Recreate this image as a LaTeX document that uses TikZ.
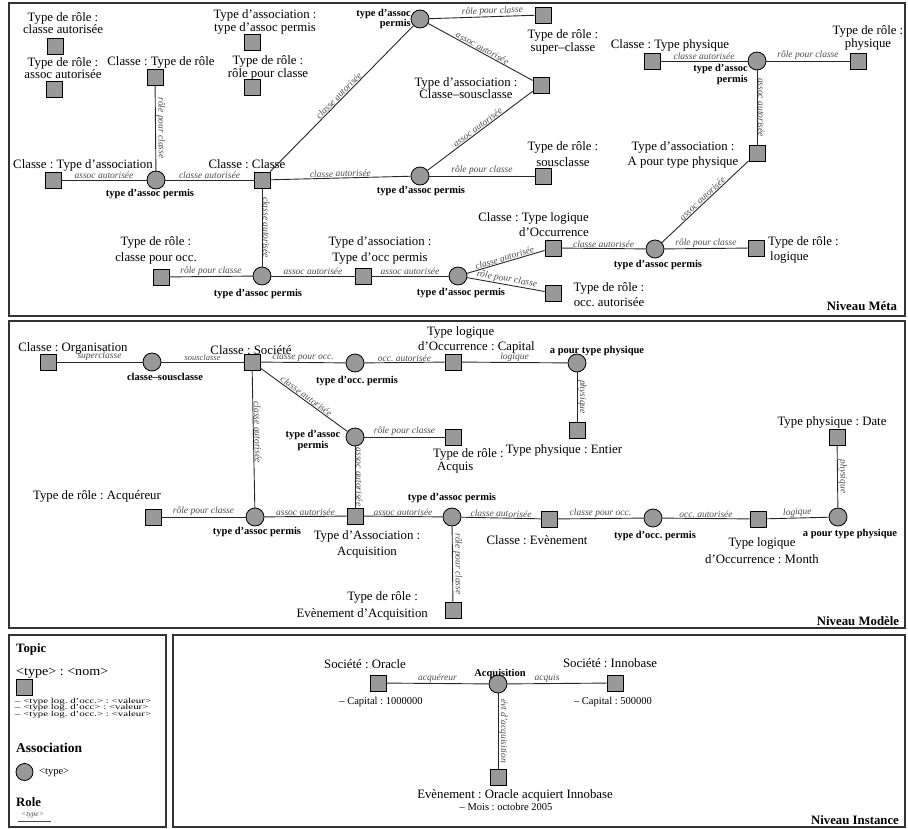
\documentclass[tikz,border=0pt]{standalone}
\usepackage{fontspec}
\setmainfont{Liberation Serif}
\definecolor{fillg}{RGB}{153,153,153}
\begin{document}
\frenchspacing
\begin{tikzpicture}[x=1pt,y=-1pt,
  sq/.style={rectangle, draw=black, fill=fillg, line width=0.8pt, minimum size=16pt, inner sep=0pt},
  ci/.style={circle, draw=black, fill=fillg, line width=0.8pt, minimum size=18pt, inner sep=0pt},
  txt/.style={font=\fontsize{12.8}{#1}\selectfont, align=center, inner sep=0pt},
  txt/.default=13,
  bl/.style={font=\fontsize{10.5}{#1}\selectfont\bfseries, align=center, inner sep=0pt},
  bl/.default=11,
  hd/.style={font=\fontsize{12.8}{13}\selectfont\bfseries, inner sep=0pt},
  sm/.style={font=\fontsize{10.5}{11}\selectfont, inner sep=0pt},
  tiny/.style={font=\fontsize{7.5}{8}\selectfont, inner sep=0pt, anchor=west},
  lk/.style={draw=black!85, line width=0.9pt},
  lab/.style={font=\fontsize{9.5}{10}\selectfont\itshape, text=black!70, inner sep=0.6pt, midway, above, sloped},
  panel/.style={draw=black!80, line width=1.3pt},
]
\useasboundingbox (0,0) rectangle (908,829);
% panels
\draw[panel] (9,3) rectangle (905,316);
\draw[panel] (9,321) rectangle (905,628);
\draw[panel] (9,635) rectangle (166,827);
\draw[panel] (173,635) rectangle (905,827);

% ================= Niveau Meta =================
\node[sq] (tr1) at (55,46) {};
\node[txt=11.5] (tr1t) at (63,23) {Type de rôle :\\classe autorisée};
\node[sq] (tr2) at (54,89) {};
\node[txt=11.5] (tr2t) at (63,68) {Type de rôle :\\assoc autorisée};
\node[sq] (ctr) at (155,77) {};
\node[txt] (ctrt) at (161,62) {Classe : Type de rôle};
\node[sq] (tat) at (252,42) {};
\node[txt=11] (tatt) at (265,22) {Type d'association :\\type d'assoc permis};
\node[sq] (trr) at (252,87) {};
\node[txt=11] (trrt) at (268,68) {Type de rôle :\\rôle pour classe};
\node[sq] (cta) at (53,180) {};
\node[txt] (ctat) at (83,165) {Classe : Type d'association};
\node[ci] (a1) at (156,180) {};
\node[bl] (a1t) at (150,194) {type d'assoc permis};
\node[sq] (cc) at (262,180) {};
\node[txt] (cct) at (247,164) {Classe : Classe};
\node[ci] (a2) at (420,19) {};
\node[bl=10, align=right, anchor=east] (a2t) at (411,19) {type d'assoc\\permis};
\node[sq] (tsc) at (543,15) {};
\node[txt] (tsct) at (563,42) {Type de rôle :\\super–classe};
\node[sq] (acs) at (541,85) {};
\node[txt=12] (acst) at (466,88) {Type d'association :\\Classe–sousclasse};
\node[ci] (a3) at (420,176) {};
\node[bl] (a3t) at (421,191) {type d'assoc permis};
\node[sq] (tss) at (543,176) {};
\node[txt=16] (tsst) at (563,154) {Type de rôle :\\sousclasse};

\node[sq] (ctp) at (652,61) {};
\node[txt] (ctpt) at (670,45) {Classe : Type physique};
\node[ci] (a4) at (757,61) {};
\node[bl=11, align=right, anchor=east] (a4t) at (748,74) {type d'assoc\\permis};
\node[sq] (trp) at (858,61) {};
\node[txt] (trpt) at (868,38) {Type de rôle :\\physique};
\node[sq] (atp) at (757,153) {};
\node[txt=15] (atpt) at (683,155) {Type d'association :\\A pour type physique};
\node[ci] (a5) at (655,249) {};
\node[bl] (a5t) at (658,265) {type d'assoc permis};
\node[sq] (ctl) at (553,248) {};
\node[txt=15, align=right, anchor=east] (ctlt) at (589,225) {Classe : Type logique\\d'Occurrence};
\node[sq] (trl) at (756,248) {};
\node[txt=15, align=left, anchor=west] (trlt) at (768,250) {Type de rôle :\\\hspace*{2pt}logique};
\node[ci] (a6) at (458,276) {};
\node[bl] (a6t) at (461,293) {type d'assoc permis};
\node[sq] (toa) at (553,293) {};
\node[txt=15] (toat) at (609,295) {Type de rôle :\\occ. autorisée};
\node[sq] (tcp) at (161,277) {};
\node[txt=16] (tcpt) at (156,250) {Type de rôle :\\classe pour occ.};
\node[ci] (a7) at (262,276) {};
\node[bl] (a7t) at (258,294) {type d'assoc permis};
\node[sq] (top) at (363,276) {};
\node[txt=16] (topt) at (380,250) {Type d'association :\\Type d'occ permis};
\node[hd] (nmeta) at (862,306) {Niveau Méta};

\draw[lk] (cta) -- node[lab]{assoc autorisée} (a1);
\draw[lk] (ctr) -- node[lab]{rôle pour classe} (a1);
\draw[lk] (a1) -- node[lab]{classe autorisée} (cc);
\draw[lk] (cc) -- node[lab]{classe autorisée} (a2);
\draw[lk] (a2) -- node[lab, pos=0.6]{rôle pour classe} (tsc);
\draw[lk] (a2) -- node[lab]{assoc autorisée} (acs);
\draw[lk] (cc) -- node[lab]{classe autorisée} (a3);
\draw[lk] (a3) -- node[lab]{assoc autorisée} (acs);
\draw[lk] (a3) -- node[lab]{rôle pour classe} (tss);
\draw[lk] (ctp) -- node[lab]{classe autorisée} (a4);
\draw[lk] (a4) -- node[lab]{rôle pour classe} (trp);
\draw[lk] (a4) -- node[lab]{assoc autorisée} (atp);
\draw[lk] (atp) -- node[lab]{assoc autorisée} (a5);
\draw[lk] (ctl) -- node[lab]{classe autorisée} (a5);
\draw[lk] (a5) -- node[lab]{rôle pour classe} (trl);
\draw[lk] (a6) -- node[lab]{classe autorisée} (ctl);
\draw[lk] (a6) -- node[lab]{rôle pour classe} (toa);
\draw[lk] (cc) -- node[lab]{classe autorisée} (a7);
\draw[lk] (tcp) -- node[lab]{rôle pour classe} (a7);
\draw[lk] (a7) -- node[lab]{assoc autorisée} (top);
\draw[lk] (top) -- node[lab]{assoc autorisée} (a6);

% ================= Niveau Modele =================
\node[sq] (corg) at (48,362) {};
\node[txt] (corgt) at (73,348) {Classe : Organisation};
\node[ci] (m1) at (152,362) {};
\node[bl] (m1t) at (165,377) {classe–sousclasse};
\node[sq] (csoc) at (252,362) {};
\node[txt] (csoct) at (251,350) {Classe : Société};
\node[ci] (m2) at (355,363) {};
\node[bl] (m2t) at (357,381) {type d'occ. permis};
\node[sq] (tlc) at (453,362) {};
\node[txt=15, align=left, anchor=west] (tlct) at (418,340) {\hspace*{9pt}Type logique\\d'Occurrence : Capital};
\node[ci] (m3) at (577,363) {};
\node[sq] (tpe) at (577,430) {};
\node[txt] (tpet) at (564,450) {Type physique : Entier};
\node[ci] (m4) at (355,437) {};
\node[bl=11] (m4t) at (313,440) {type d'assoc\\permis};
\node[sq] (tacq) at (453,437) {};
\node[txt, align=left, anchor=west] (tacqt) at (433,461) {Type de rôle :\\\hspace*{4pt}Acquis};
\node[sq] (tacqr) at (153,517) {};
\node[txt] (tacqrt) at (97,496) {Type de rôle : Acquéreur};
\node[ci] (m5) at (255,517) {};
\node[bl] (m5t) at (257,532) {type d'assoc permis};
\node[sq] (aacq) at (355,516) {};
\node[txt=16] (aacqt) at (367,544) {Type d'Association :\\Acquisition};
\node[ci] (m6) at (452,517) {};
\node[bl] (m6t) at (452,498) {type d'assoc permis};
\node[sq] (tevt) at (453,610) {};
\node[txt=17, align=right, anchor=east] (tevtt) at (428,606) {Type de rôle :\hspace*{10pt}\\Evènement d'Acquisition};
\node[sq] (cevt) at (549,519) {};
\node[txt] (cevtt) at (537,540) {Classe : Evènement};
\node[ci] (m7) at (653,518) {};
\node[bl] (m7t) at (655,536) {type d'occ. permis};
\node[sq] (tlm) at (758,519) {};
\node[txt=17] (tlmt) at (762,551) {Type logique\\d'Occurrence : Month};
\node[ci] (m8) at (838,517) {};
\node[bl] (m8t) at (850,534) {a pour type physique};
\node[sq] (tpd) at (837,437) {};
\node[txt] (tpdt) at (832,422) {Type physique : Date};
\node[hd] (nmod) at (858,621) {Niveau Modèle};

\draw[lk] (corg) -- node[lab]{superclasse} (m1);
\draw[lk] (m1) -- node[lab, font=\fontsize{8.5}{9}\selectfont\itshape]{sousclasse} (csoc);
\draw[lk] (csoc) -- node[lab]{classe pour occ.} (m2);
\draw[lk] (m2) -- node[lab]{occ. autorisée} (tlc);
\draw[lk] (tlc) -- node[lab]{logique} (m3);
\draw[lk] (m3) -- node[lab]{physique} (tpe);
\draw[lk] (csoc) -- node[lab]{classe autorisée} (m4);
\draw[lk] (m4) -- node[lab]{rôle pour classe} (tacq);
\draw[lk] (m4) -- node[lab]{assoc autorisée} (aacq);
\draw[lk] (csoc) -- node[lab, pos=0.45]{classe autorisée} (m5);
\draw[lk] (tacqr) -- node[lab]{rôle pour classe} (m5);
\draw[lk] (m5) -- node[lab]{assoc autorisée} (aacq);
\draw[lk] (aacq) -- node[lab]{assoc autorisée} (m6);
\draw[lk] (m6) -- node[lab]{rôle pour classe} (tevt);
\draw[lk] (m6) -- node[lab]{classe autorisée} (cevt);
\draw[lk] (cevt) -- node[lab]{classe pour occ.} (m7);
\draw[lk] (m7) -- node[lab]{occ. autorisée} (tlm);
\draw[lk] (tlm) -- node[lab]{logique} (m8);
\draw[lk] (tpd) -- node[lab]{physique} (m8);
\node[bl] (m3t) at (597,351) {a pour type physique};

% ================= Legend =================
\node[hd, anchor=west] (ltopic) at (16,649) {Topic};
\node[txt, anchor=west] (ltn) at (16,673) {\scalebox{1.1}[1]{<type> : <nom>}};
\node[sq] (lsq) at (24,687) {};
\node[tiny] (locc1) at (15,701.5) {\scalebox{1.45}[1]{– <type log. d'occ.> : <valeur>}};
\node[tiny] (locc2) at (15,708) {\scalebox{1.45}[1]{– <type log. d'occ> : <valeur>}};
\node[tiny] (locc3) at (15,714.5) {\scalebox{1.45}[1]{– <type log. d'occ.> : <valeur>}};
\node[anchor=west, inner sep=0pt, font=\fontsize{13.5}{14}\selectfont\bfseries] (lassoc) at (16,748) {Association};
\node[ci, minimum size=17pt] (lci) at (24.5,772) {};
\node[anchor=west, inner sep=0pt, font=\fontsize{10.5}{11}\selectfont] (lct) at (39,773) {<type>};
\node[hd, anchor=west] (lrole) at (16,802) {Role};
\node[anchor=west, inner sep=0pt, font=\fontsize{7.5}{8}\selectfont\itshape, text=black!70] (lrt) at (21,815) {<type>};
\coordinate (lr1) at (18,821.5);
\coordinate (lr2) at (51,821.5);
\draw[lk, line width=1.2pt, draw=black!70] (lr1) -- (lr2);

% ================= Niveau Instance =================
\node[sq] (orc) at (378,683) {};
\node[txt] (orct) at (365,664) {Société : Oracle};
\node[sm] (orcc) at (381,702) {– Capital : 1000000};
\node[ci] (iacq) at (498,684) {};
\node[sq] (inno) at (615,683) {};
\node[txt] (innot) at (610,663) {Société : Innobase};
\node[sm] (innoc) at (613,702) {– Capital : 500000};
\node[sq] (ievt) at (498,777) {};
\node[txt] (ievtt) at (515,795) {Evènement : Oracle acquiert Innobase};
\node[sm] (ievtm) at (506,807) {– Mois : octobre 2005};
\node[hd] (ninst) at (855,820) {Niveau Instance};
\draw[lk] (orc) -- node[lab]{acquéreur} (iacq);
\draw[lk] (iacq) -- node[lab, pos=0.4]{acquis} (inno);
\draw[lk] (iacq) -- node[lab]{évt d'acquisition} (ievt);
\node[bl] (iacqt) at (500,674) {Acquisition};
\end{tikzpicture}
\end{document}
